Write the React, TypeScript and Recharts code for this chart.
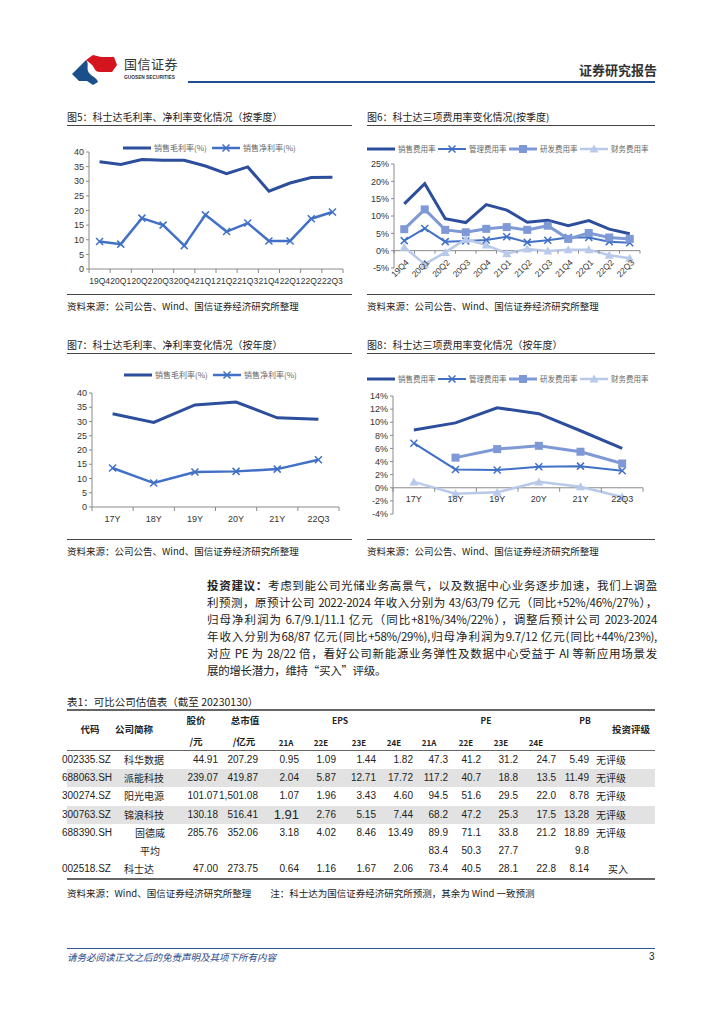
import React from 'react';
import { ComposedChart, Line, XAxis, YAxis, ReferenceLine } from 'recharts';

const CJK = '"Noto Sans CJK SC", "Liberation Sans", sans-serif';
const LATIN = '"Liberation Sans", "Noto Sans CJK SC", sans-serif';

// quarterly data (%)
const quarters = ['19Q4', '20Q1', '20Q2', '20Q3', '20Q4', '21Q1', '21Q2', '21Q3', '21Q4', '22Q1', '22Q2', '22Q3'];
const qGross = [36.7, 35.7, 37.4, 37.2, 37.2, 35.2, 32.6, 34.9, 26.6, 29.4, 31.3, 31.4];
const qNet = [9.4, 8.5, 17.4, 15.0, 8.0, 18.5, 12.8, 15.7, 9.6, 9.6, 17.2, 19.5];
const qSales = [13.5, 19.3, 9.2, 8.1, 13.3, 11.7, 8.2, 8.8, 7.2, 8.7, 6.2, 4.9];
const qMgmt = [2.9, 6.4, 2.6, 2.8, 3.1, 4.0, 2.4, 3.0, 3.8, 3.8, 2.6, 2.3];
const qRd = [6.2, 11.9, 6.0, 5.3, 6.3, 6.8, 6.0, 7.2, 3.4, 5.1, 3.8, 3.4];
const qFin = [1.0, -3.9, -0.5, 3.3, 1.6, -0.8, 0.5, -0.1, 0.3, 0.3, -1.3, -2.2];

// yearly data (%)
const years = ['17Y', '18Y', '19Y', '20Y', '21Y', '22Q3'];
const yGross = [32.7, 29.7, 35.8, 36.8, 31.3, 30.8];
const yNet = [13.7, 8.4, 12.3, 12.5, 13.3, 16.6];
const ySales = [8.8, 9.9, 12.2, 11.3, 8.7, 6.0];
const yMgmt = [6.8, 2.8, 2.7, 3.2, 3.3, 2.6];
const yRd = [null, 4.6, 5.9, 6.4, 5.5, 3.7];
const yFin = [0.9, -0.9, -0.7, 0.9, 0.15, -1.4];

const marginTicks = [0, 5, 10, 15, 20, 25, 30, 35, 40];
const qFeeTicks = [-5, 0, 5, 10, 15, 20, 25];
const yFeeTicks = [-4, -2, 0, 2, 4, 6, 8, 10, 12, 14];

// valuation table
const codes = ['002335.SZ', '688063.SH', '300274.SZ', '300763.SZ', '688390.SH', '', '002518.SZ'];
const names = ['科华数据', '派能科技', '阳光电源', '锦浪科技', '固德威', '平均', '科士达'];
const prices = ['44.91', '239.07', '101.07', '130.18', '285.76', '', '47.00'];
const mcaps = ['207.29', '419.87', '1,501.08', '516.41', '352.06', '', '273.75'];
const eps = [
  ['0.95', '1.09', '1.44', '1.82'],
  ['2.04', '5.87', '12.71', '17.72'],
  ['1.07', '1.96', '3.43', '4.60'],
  ['1.91', '2.76', '5.15', '7.44'],
  ['3.18', '4.02', '8.46', '13.49'],
  ['', '', '', ''],
  ['0.64', '1.16', '1.67', '2.06'],
];
const pe = [
  ['47.3', '41.2', '31.2', '24.7'],
  ['117.2', '40.7', '18.8', '13.5'],
  ['94.5', '51.6', '29.5', '22.0'],
  ['68.2', '47.2', '25.3', '17.5'],
  ['89.9', '71.1', '33.8', '21.2'],
  ['83.4', '50.3', '27.7', ''],
  ['73.4', '40.5', '28.1', '22.8'],
];
const pb = ['5.49', '11.49', '8.78', '13.28', '18.89', '9.8', '8.14'];
const ratings = ['无评级', '无评级', '无评级', '无评级', '无评级', '', '买入'];
const subHeads = ['21A', '22E', '23E', '24E', '21A', '22E', '23E', '24E'];

const C_DARK = '#2D4E9C';
const C_MID = '#4170C6';
const C_RD = '#7E99D6';
const C_FIN = '#B8C9EA';
const AXIS = '#8a8a8a';

const marginSeries = [
  { key: 'gross', label: '销售毛利率(%)', color: C_DARK, width: 3, marker: 'none' },
  { key: 'net', label: '销售净利率(%)', color: C_MID, width: 2.5, marker: 'cross' },
];
const feeSeries = [
  { key: 'sales', label: '销售费用率', color: C_DARK, width: 3, marker: 'none' },
  { key: 'mgmt', label: '管理费用率', color: C_MID, width: 2, marker: 'cross' },
  { key: 'rd', label: '研发费用率', color: C_RD, width: 3, marker: 'square' },
  { key: 'fin', label: '财务费用率', color: C_FIN, width: 2.5, marker: 'triangle' },
];

const qMarginRows = quarters.map((name, i) => ({ name, gross: qGross[i], net: qNet[i] }));
const qFeeRows = quarters.map((name, i) => ({ name, sales: qSales[i], mgmt: qMgmt[i], rd: qRd[i], fin: qFin[i] }));
const yMarginRows = years.map((name, i) => ({ name, gross: yGross[i], net: yNet[i] }));
const yFeeRows = years.map((name, i) => ({ name, sales: ySales[i], mgmt: yMgmt[i], rd: yRd[i], fin: yFin[i] }));

function markerShape(marker, color, cx, cy, k) {
  if (marker === 'cross') {
    const r = 3.5;
    return <path key={k} d={`M${cx - r},${cy - r}L${cx + r},${cy + r}M${cx - r},${cy + r}L${cx + r},${cy - r}`} stroke={color} strokeWidth={1.5} fill="none" />;
  }
  if (marker === 'square') {
    return <rect key={k} x={cx - 4} y={cy - 4} width={8} height={8} fill={color} />;
  }
  if (marker === 'triangle') {
    return <path key={k} d={`M${cx},${cy - 4.5}L${cx + 4.5},${cy + 3.5}L${cx - 4.5},${cy + 3.5}Z`} fill={color} />;
  }
  return <g key={k} />;
}

function makeDot(marker, color) {
  if (marker === 'none') return false;
  return (p) => {
    const { cx, cy, index, value } = p;
    if (cx == null || cy == null || value == null || isNaN(cy)) return <g key={`n${index}`} />;
    return markerShape(marker, color, cx, cy, `d${index}`);
  };
}

function LegendRow({ items, left, top, lineW, textW, fontSize }) {
  return (
    <div style={{ position: 'absolute', left, top, display: 'flex', alignItems: 'center', whiteSpace: 'nowrap' }}>
      {items.map((s) => (
        <div key={s.key} style={{ display: 'flex', alignItems: 'center' }}>
          <svg width={lineW} height={10}>
            <line x1={0} x2={lineW} y1={5} y2={5} stroke={s.color} strokeWidth={s.width} />
            {markerShape(s.marker, s.color, lineW / 2, 5, 'm')}
          </svg>
          <span style={{ width: textW, fontSize, color: '#666', fontFamily: CJK, paddingLeft: 3 }}>{s.label}</span>
        </div>
      ))}
    </div>
  );
}

// category label under the axis, with tick marks between categories
function BelowTick(props) {
  const { x, y, payload, index, count, dy, shift, fontSize } = props;
  const off = payload.offset || 0;
  const y0 = y - (shift || 0);
  return (
    <g>
      <line x1={x - off} x2={x - off} y1={y0} y2={y0 + 4} stroke={AXIS} />
      {index === count - 1 && <line x1={x + off} x2={x + off} y1={y0} y2={y0 + 4} stroke={AXIS} />}
      <text x={x} y={y0 + dy} textAnchor="middle" fontSize={fontSize} fill="#333" fontFamily={LATIN}>{payload.value}</text>
    </g>
  );
}

function RotTick(props) {
  const { x, y, payload, index, count, shift } = props;
  const off = payload.offset || 0;
  const y0 = y - shift;
  const ax = x + 3;
  const ay = y - 7;
  return (
    <g>
      <line x1={x - off} x2={x - off} y1={y0} y2={y0 + 3} stroke={AXIS} />
      {index === count - 1 && <line x1={x + off} x2={x + off} y1={y0} y2={y0 + 3} stroke={AXIS} />}
      <text x={ax} y={ay} dy="0.35em" transform={`rotate(-45 ${ax} ${ay})`} textAnchor="end" fontSize={8.5} fill="#333" fontFamily={LATIN}>{payload.value}</text>
    </g>
  );
}

const yTick = { fontSize: 9, fill: '#333', fontFamily: LATIN };

function MarginChart({ data, left, top, width, height, margin, yW, xH, labelDy, labelSize }) {
  return (
    <div style={{ position: 'absolute', left, top }}>
      <ComposedChart width={width} height={height} data={data} margin={margin}>
        <XAxis dataKey="name" scale="band" interval={0} height={xH} tickSize={0} tickMargin={0} stroke={AXIS}
          tick={(p) => <BelowTick {...p} count={data.length} dy={labelDy} fontSize={labelSize} />} />
        <YAxis width={yW} domain={[0, 40]} ticks={marginTicks} tickSize={3} tickMargin={2} stroke={AXIS} tick={yTick} interval={0} />
        {marginSeries.map((s) => (
          <Line key={s.key} dataKey={s.key} stroke={s.color} strokeWidth={s.width} type="linear"
            dot={makeDot(s.marker, s.color)} activeDot={false} isAnimationActive={false} />
        ))}
      </ComposedChart>
    </div>
  );
}

function FeeChart({ data, left, top, width, height, margin, yW, xH, domain, ticks, rotated, labelDy }) {
  const plotH = height - margin.top - margin.bottom - xH;
  const shift = (plotH * (0 - domain[0])) / (domain[1] - domain[0]);
  return (
    <div style={{ position: 'absolute', left, top }}>
      <ComposedChart width={width} height={height} data={data} margin={margin}>
        <XAxis dataKey="name" scale="band" interval={0} height={xH} tickSize={0} tickMargin={0} axisLine={false}
          tick={(p) => rotated
            ? <RotTick {...p} count={data.length} shift={shift} />
            : <BelowTick {...p} count={data.length} shift={shift} dy={labelDy} fontSize={9} />} />
        <YAxis width={yW} domain={domain} ticks={ticks} tickSize={3} tickMargin={2} stroke={AXIS} tick={yTick}
          interval={0} tickFormatter={(v) => `${v}%`} />
        <ReferenceLine y={0} stroke={AXIS} />
        {feeSeries.map((s) => (
          <Line key={s.key} dataKey={s.key} stroke={s.color} strokeWidth={s.width} type="linear"
            dot={makeDot(s.marker, s.color)} activeDot={false} isAnimationActive={false} />
        ))}
      </ComposedChart>
    </div>
  );
}

function abs(left, top, extra) {
  return { position: 'absolute', left, top, whiteSpace: 'nowrap', ...extra };
}

function ChartFrame({ left, width, title, titleTop, ruleTop, srcRuleTop }) {
  return (
    <>
      <div style={abs(left, titleTop, { fontSize: 10, color: '#222', fontFamily: CJK, lineHeight: '14px' })}>{title}</div>
      <div style={abs(left, ruleTop, { width, height: 1, background: '#444' })} />
      <div style={abs(left, srcRuleTop, { width, height: 1, background: '#444' })} />
      <div style={abs(left, srcRuleTop + 5, { fontSize: 9.5, color: '#222', fontFamily: CJK, lineHeight: '14px' })}>
        资料来源：公司公告、Wind、国信证券经济研究所整理
      </div>
    </>
  );
}

const paraLines = [
  '考虑到能公司光储业务高景气，以及数据中心业务逐步加速，我们上调盈',
  '利预测，原预计公司 2022-2024 年收入分别为 43/63/79 亿元（同比+52%/46%/27%），',
  '归母净利润为 6.7/9.1/11.1 亿元（同比+81%/34%/22%），调整后预计公司 2023-2024',
  '年收入分别为68/87 亿元(同比+58%/29%),归母净利润为9.7/12 亿元(同比+44%/23%),',
  '对应 PE 为 28/22 倍，看好公司新能源业务弹性及数据中心受益于 AI 等新应用场景发',
  '展的增长潜力，维持“买入”评级。',
];

// table column geometry: [left, width, align]
const cols = [
  [62, 58, 'left'], [123, 52, 'left'], [175, 43, 'right'], [218, 40, 'right'],
  [258, 41, 'right'], [299, 37, 'right'], [336, 40, 'right'], [376, 37, 'right'],
  [413, 35, 'right'], [448, 33, 'right'], [481, 37, 'right'], [518, 38, 'right'],
  [556, 33, 'right'], [592, 50, 'left'],
];
const subCenters = [286, 321, 359, 394, 429, 466, 501, 536];
const rowTop = 751;
const rowH = 18.2;

function Table() {
  const cell = (text, ci, ri, extra = {}) => {
    const [l, w, align] = cols[ci];
    return (
      <div key={`${ri}-${ci}`} style={abs(l, rowTop + ri * rowH, {
        width: w, height: rowH, lineHeight: `${rowH}px`, textAlign: align, fontSize: 10,
        fontFamily: LATIN, color: '#222', paddingLeft: ci === 13 ? 3 : 0, ...extra,
      })}>{text}</div>
    );
  };
  const head = (text, cx, cy, size = 9.5) => (
    <div key={`${text}${cx}`} style={abs(cx - 30, cy - 7, { width: 60, textAlign: 'center', fontSize: size, lineHeight: '14px', fontWeight: 700, color: '#222', fontFamily: CJK })}>{text}</div>
  );
  return (
    <>
      <div style={abs(67, 695, { fontSize: 10.5, color: '#222', fontFamily: CJK, lineHeight: '14px' })}>表1：可比公司估值表（截至 20230130）</div>
      <div style={abs(67, 709, { width: 588, height: 2, background: '#666' })} />
      {head('代码', 90, 729)}
      {head('公司简称', 134, 729)}
      {head('股价', 196, 720)}
      {head('/元', 196, 741)}
      {head('总市值', 245, 720)}
      {head('/亿元', 244, 741)}
      {head('EPS', 340, 720, 8.5)}
      {head('PE', 486, 720, 8.5)}
      {head('PB', 585, 720, 8.5)}
      {head('投资评级', 631, 729)}
      {subHeads.map((t, i) => head(t, subCenters[i], 743, 8))}
      <div style={abs(67, 750, { width: 588, height: 1, background: '#666' })} />
      {[1, 3].map((ri) => (
        <div key={`bg${ri}`} style={abs(67, rowTop + ri * rowH, { width: 588, height: rowH, background: '#e2e2e2' })} />
      ))}
      {codes.map((code, ri) => (
        <React.Fragment key={code + ri}>
          {cell(code, 0, ri)}
          {cell(names[ri], 1, ri, { fontFamily: CJK, textAlign: ri === 4 || ri === 5 ? 'center' : 'left', paddingLeft: 1 })}
          {cell(prices[ri], 2, ri)}
          {cell(mcaps[ri], 3, ri)}
          {eps[ri].map((v, k) => cell(v, 4 + k, ri, ri === 3 && k === 0 ? { fontSize: 13 } : {}))}
          {pe[ri].map((v, k) => cell(v, 8 + k, ri))}
          {cell(pb[ri], 12, ri)}
          {cell(ratings[ri], 13, ri, { fontFamily: CJK, paddingLeft: ri === 6 ? 16 : 4 })}
        </React.Fragment>
      ))}
      <div style={abs(67, 878, { width: 588, height: 1.5, background: '#666' })} />
      <div style={abs(67, 886, { fontSize: 9.5, color: '#222', fontFamily: CJK, lineHeight: '14px' })}>
        资料来源：Wind、国信证券经济研究所整理　　注：科士达为国信证券经济研究所预测，其余为 Wind 一致预测
      </div>
    </>
  );
}

export default function App() {
  return (
    <div style={{ position: 'absolute', left: 0, top: 0, width: 724, height: 1024, background: '#fff', fontFamily: CJK, overflow: 'hidden' }}>
      {/* header */}
      <svg style={{ position: 'absolute', left: 70, top: 52 }} width={50} height={34}>
        <path d="M2,22 L16,8 C20,12 15,17 20,22 C23,25 27,26 28,30 L23,33 L17,29 L9,29 Z" fill="#1B4F8A" />
        <path d="M16,8 L23,3 L31,5 L44,5 L47,13 L42,20 L30,20 C24,20 25,15 21,12 Z" fill="#D4141E" />
      </svg>
      <div style={abs(124, 56, { fontSize: 13, color: '#333', letterSpacing: 0.5, lineHeight: '16px' })}>国信证券</div>
      <div style={abs(124, 74, { fontSize: 4.8, color: '#333', fontWeight: 700, fontFamily: LATIN, lineHeight: '7px' })}>GUOSEN SECURITIES</div>
      <div style={abs(188, 81, { width: 467, height: 2, background: '#1F4E8C' })} />
      <div style={abs(579, 62, { fontSize: 13, color: '#333', fontWeight: 700, lineHeight: '16px' })}>证券研究报告</div>

      {/* figure 5 & 6 */}
      <ChartFrame left={67} width={285} title="图5：科士达毛利率、净利率变化情况（按季度）" titleTop={110} ruleTop={125} srcRuleTop={294} />
      <ChartFrame left={367} width={288} title="图6：科士达三项费用率变化情况(按季度)" titleTop={110} ruleTop={125} srcRuleTop={294} />
      <LegendRow items={marginSeries} left={123} top={142} lineW={28} textW={58} fontSize={8} />
      <LegendRow items={feeSeries} left={367} top={143} lineW={28} textW={40} fontSize={7.5} />
      <MarginChart data={qMarginRows} left={60} top={138} width={290} height={152}
        margin={{ top: 14, right: 7, bottom: 5, left: 7 }} yW={22} xH={16} labelDy={15} labelSize={8.5} />
      <FeeChart data={qFeeRows} left={360} top={138} width={295} height={152}
        margin={{ top: 26, right: 15, bottom: 0, left: 6 }} yW={28} xH={22} domain={[-5, 25]} ticks={qFeeTicks} rotated />

      {/* figure 7 & 8 */}
      <ChartFrame left={67} width={285} title="图7：科士达毛利率、净利率变化情况（按年度）" titleTop={338} ruleTop={353} srcRuleTop={539} />
      <ChartFrame left={367} width={288} title="图8：科士达三项费用率变化情况（按年度）" titleTop={338} ruleTop={353} srcRuleTop={539} />
      <LegendRow items={marginSeries} left={124} top={369} lineW={28} textW={58} fontSize={8} />
      <LegendRow items={feeSeries} left={367} top={373} lineW={28} textW={40} fontSize={7.5} />
      <MarginChart data={yMarginRows} left={60} top={380} width={286} height={150}
        margin={{ top: 13, right: 7, bottom: 5, left: 8 }} yW={24} xH={18} labelDy={15} labelSize={9} />
      <FeeChart data={yFeeRows} left={360} top={380} width={290} height={140}
        margin={{ top: 16, right: 7, bottom: 2, left: 6 }} yW={27} xH={4} domain={[-4, 14]} ticks={yFeeTicks} labelDy={14} />

      {/* investment view */}
      {paraLines.map((t, i) => (
        <div key={i} style={{
          position: 'absolute', left: 207, top: 577 + i * 17, width: 450, height: 17, lineHeight: '17px',
          fontSize: 11.5, letterSpacing: -0.3, whiteSpace: 'nowrap', color: '#222', textAlign: 'justify',
          textAlignLast: i === paraLines.length - 1 ? 'left' : 'justify',
        }}>
          {i === 0 && <b>投资建议：</b>}{t}
        </div>
      ))}

      <Table />

      {/* footer */}
      <div style={abs(67, 948, { width: 588, height: 1, background: '#2F5597' })} />
      <div style={abs(67, 950, { fontSize: 9.5, color: '#2A4A8A', fontStyle: 'italic', lineHeight: '14px' })}>请务必阅读正文之后的免责声明及其项下所有内容</div>
      <div style={abs(649, 950, { fontSize: 10, color: '#222', fontFamily: LATIN, lineHeight: '14px' })}>3</div>
    </div>
  );
}
